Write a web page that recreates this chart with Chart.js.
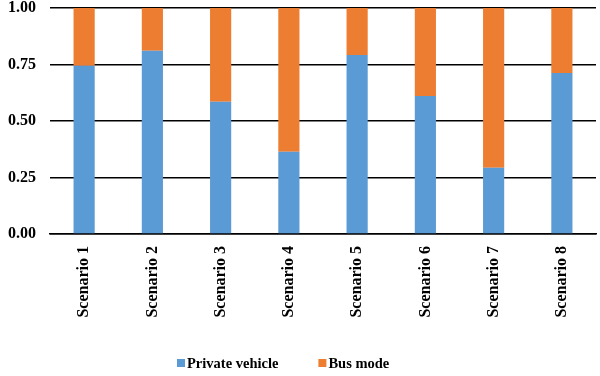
<!DOCTYPE html>
<html>
<head>
<meta charset="utf-8">
<script src="https://cdn.jsdelivr.net/npm/chart.js@4"></script>
<style>
    html, body { margin: 0; padding: 0; background: #fff; }
    #wrap { width: 600px; height: 376px; }
</style>
</head>
<body>
<div id="wrap"><canvas id="graficoModos"></canvas></div>
<script>
// Datos del gráfico
const escenarios   = ["Scenario 1","Scenario 2","Scenario 3","Scenario 4","Scenario 5","Scenario 6","Scenario 7","Scenario 8"];
const privado      = [0.745, 0.811, 0.585, 0.364, 0.792, 0.611, 0.293, 0.712];
const bus          = [0.255, 0.189, 0.415, 0.636, 0.208, 0.389, 0.707, 0.288];
const ticksY       = [0, 0.25, 0.5, 0.75, 1];

const fuente = "'Liberation Serif', 'Times New Roman', serif";

// Leyenda dibujada a mano abajo (cuadro pequeño + texto)
const leyendaAbajo = {
    id: 'leyendaAbajo',
    afterDraw(chart){
        const ctx = chart.ctx;
        const y = 363;
        let x = 177;
        ctx.save();
        ctx.font = "bold 14.5px " + fuente;
        ctx.textBaseline = 'middle';
        ctx.textAlign = 'left';
        chart.data.datasets.forEach(ds => {
            ctx.fillStyle = ds.backgroundColor;
            ctx.fillRect(x, y - 4, 8, 8);
            ctx.fillStyle = '#000';
            ctx.fillText(ds.label, x + 10, y + 1);
            x += 10 + ctx.measureText(ds.label).width + 40;
        });
        ctx.restore();
    }
};

new Chart(document.getElementById('graficoModos'), {
    type: 'bar',
    data: {
        labels: escenarios,
        datasets: [{
            label: 'Private vehicle',
            data: privado,
            backgroundColor: '#5b9bd5',
            categoryPercentage: 1,
            barPercentage: 0.31
        }, {
            label: 'Bus mode',
            data: bus,
            backgroundColor: '#ed7d31',
            categoryPercentage: 1,
            barPercentage: 0.31
        }]
    },
    plugins: [leyendaAbajo],
    options: {
        responsive: true,
        maintainAspectRatio: false,
        animation: false,
        layout: { padding: { top: 0, right: 4, left: 8, bottom: 58 } },
        plugins: {
            legend: { display: false },
            tooltip: { enabled: false }
        },
        scales: {
            x: {
                stacked: true,
                grid: { display: false, drawTicks: true, tickLength: 12, tickColor: 'rgba(0,0,0,0)' },
                border: { color: '#000', width: 1.5 },
                ticks: {
                    color: '#000',
                    minRotation: 90,
                    maxRotation: 90,
                    padding: 0,
                    font: { family: fuente, size: 16, weight: 'bold' }
                },
                afterFit: scale => { scale.height = 84; }
            },
            y: {
                stacked: true,
                min: 0,
                max: 1,
                afterBuildTicks: axis => { axis.ticks = ticksY.map(v => ({ value: v })); },
                grid: { color: '#000', lineWidth: 1.5, drawTicks: true, tickLength: 14, tickColor: 'rgba(0,0,0,0)' },
                border: { display: false },
                ticks: {
                    color: '#000',
                    padding: 0,
                    callback: v => Number(v).toFixed(2),
                    font: { family: fuente, size: 16, weight: 'bold', lineHeight: 1 }
                }
            }
        }
    }
});
</script>
</body>
</html>
